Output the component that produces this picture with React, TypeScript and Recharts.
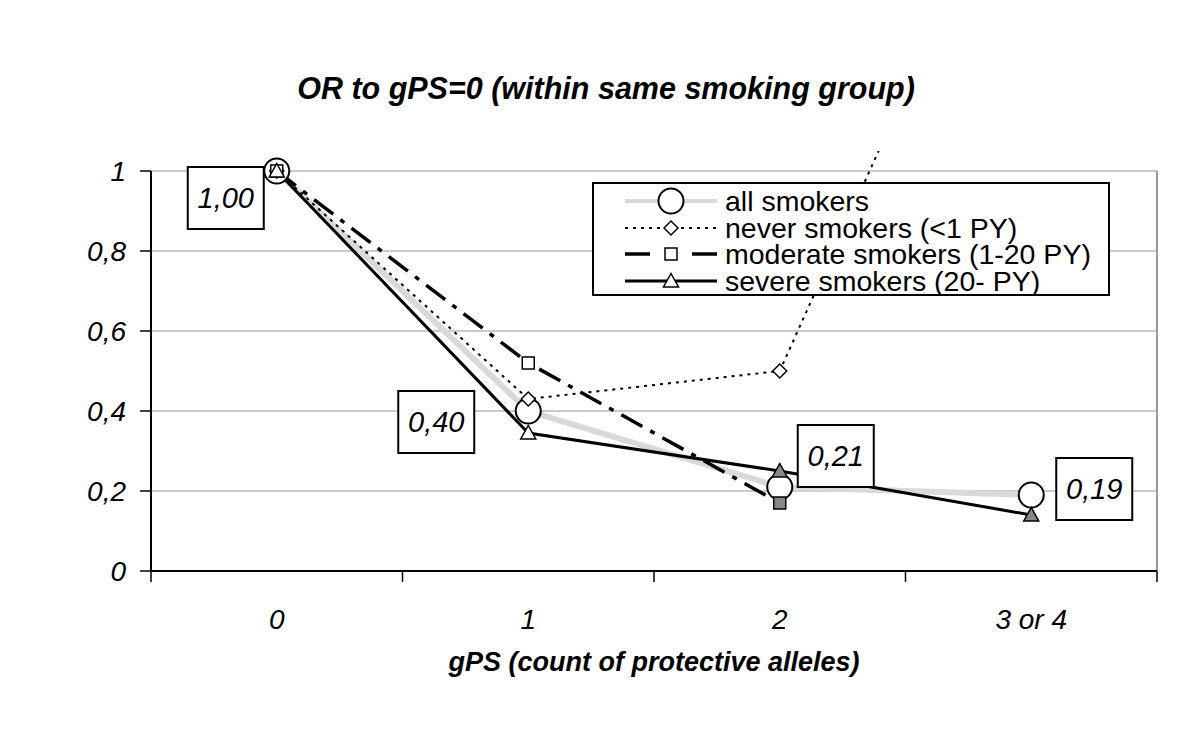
import React from 'react';
import { LineChart, Line, XAxis, YAxis, ReferenceLine, LabelList, Legend } from 'recharts';

const categories = ['0', '1', '2', '3 or 4'];
const allSmokers = [1.0, 0.4, 0.21, 0.19];
const neverSmokers = [1.0, 0.43, 0.5, 1.9];
const moderateSmokers: (number | null)[] = [1.0, 0.52, 0.17, null];
const severeSmokers = [1.0, 0.345, 0.25, 0.14];
const yTicks = [0, 0.2, 0.4, 0.6, 0.8, 1];
const seriesNames = ['all smokers', 'never smokers (<1 PY)', 'moderate smokers (1-20 PY)', 'severe smokers (20- PY)'];
const chartTitle = 'OR to gPS=0 (within same smoking group)';
const xTitle = 'gPS (count of protective alleles)';

const FONT = '"Liberation Sans", Arial, Helvetica, sans-serif';

const data = categories.map((c, i) => ({
  x: i,
  cat: c,
  all: allSmokers[i],
  never: neverSmokers[i],
  moderate: moderateSmokers[i],
  severe: severeSmokers[i],
}));

type Shape = 'circle' | 'diamond' | 'square' | 'triangle';

const styles: Record<string, { stroke: string; width: number; dash?: string; shape: Shape; fills: string[] }> = {
  all: { stroke: '#d9d9d9', width: 6, shape: 'circle', fills: ['#fff', '#fff', '#fff', '#fff'] },
  never: { stroke: '#000', width: 2, dash: '3 5', shape: 'diamond', fills: ['#fff', '#fff', '#fff', '#fff'] },
  moderate: { stroke: '#000', width: 3.5, dash: '24 9 5 9', shape: 'square', fills: ['#fff', '#fff', '#888', '#888'] },
  severe: { stroke: '#000', width: 3, shape: 'triangle', fills: ['#fff', '#fff', '#888', '#888'] },
};
const seriesKeys = ['all', 'never', 'moderate', 'severe'];

// label box centre offsets relative to the point (layout only)
const labelOffsets = [[-51, 27], [-92, 11], [56, -31], [63, -6]];

function Marker({ shape, cx, cy, fill }: { shape: Shape; cx: number; cy: number; fill: string }) {
  if (shape === 'circle') return <circle cx={cx} cy={cy} r={12.5} fill={fill} stroke="#000" strokeWidth={2} />;
  if (shape === 'diamond')
    return <path d={`M${cx},${cy - 7} L${cx + 7},${cy} L${cx},${cy + 7} L${cx - 7},${cy} Z`} fill={fill} stroke="#000" strokeWidth={1.5} />;
  if (shape === 'square') return <rect x={cx - 6} y={cy - 6} width={12} height={12} fill={fill} stroke="#000" strokeWidth={1.5} />;
  return <path d={`M${cx},${cy - 7.5} L${cx + 7.5},${cy + 6} L${cx - 7.5},${cy + 6} Z`} fill={fill} stroke="#000" strokeWidth={1.5} />;
}

const makeDot = (key: string) => (props: any) => {
  const { cx, cy, index } = props;
  const st = styles[key];
  if (cx == null || cy == null || !isFinite(cy) || props.value == null) return <g key={`${key}-d-${index}`} />;
  return (
    <g key={`${key}-d-${index}`}>
      <Marker shape={st.shape} cx={cx} cy={cy} fill={st.fills[index] || '#fff'} />
    </g>
  );
};

const fmt2 = (v: number) => v.toFixed(2).replace('.', ',');
const fmtY = (v: number) => (v === 0 ? '0' : v === 1 ? '1' : v.toFixed(1).replace('.', ','));

const renderLabel = (props: any) => {
  const px = props.x ?? props.viewBox?.x;
  const py = props.y ?? props.viewBox?.y;
  let idx = props.index;
  if (idx == null) idx = allSmokers.indexOf(props.value);
  const [dx, dy] = labelOffsets[idx] || [0, 0];
  const cx = px + dx;
  const cy = py + dy;
  return (
    <g key={`lbl-${idx}`}>
      <rect x={cx - 38} y={cy - 31} width={76} height={62} fill="#fff" stroke="#000" strokeWidth={2} />
      <text x={cx} y={cy + 10} textAnchor="middle" fontSize={29} fontStyle="italic" fontFamily={FONT} fill="#000">
        {fmt2(Number(props.value))}
      </text>
    </g>
  );
};

const renderXTick = (props: any) => {
  const { x, y, payload } = props;
  const v = payload.value;
  if (Math.abs(v - Math.round(v)) > 0.25) {
    return <line key={`xt-${v}`} x1={x} y1={y} x2={x} y2={y + 11} stroke="#000" strokeWidth={1.5} />;
  }
  return (
    <text key={`xt-${v}`} x={x} y={y + 58} textAnchor="middle" fontSize={28} fontStyle="italic" fontFamily={FONT} fill="#000">
      {categories[Math.round(v)]}
    </text>
  );
};

const renderLegend = () => {
  const rows = [19, 46, 72, 99];
  return (
    <svg width={518} height={114} style={{ display: 'block' }}>
      <rect x={1} y={1} width={516} height={112} fill="#fff" stroke="#000" strokeWidth={2} />
      {seriesKeys.map((k, i) => {
        const st = styles[k];
        const y = rows[i];
        return (
          <g key={k}>
            {k === 'moderate' ? (
              <>
                <line x1={33} y1={y} x2={58} y2={y} stroke="#000" strokeWidth={3.5} />
                <line x1={100} y1={y} x2={125} y2={y} stroke="#000" strokeWidth={3.5} />
              </>
            ) : (
              <line
                x1={33}
                y1={y}
                x2={125}
                y2={y}
                stroke={st.stroke}
                strokeWidth={k === 'all' ? 4 : st.width}
                strokeDasharray={st.dash}
              />
            )}
            <Marker shape={st.shape} cx={79} cy={y} fill="#fff" />
            <text x={133} y={y + 10} fontSize={28.5} fontFamily={FONT} fill="#000">
              {seriesNames[i]}
            </text>
          </g>
        );
      })}
    </svg>
  );
};

export default function App() {
  return (
    <div style={{ position: 'absolute', left: 0, top: 0, width: 1200, height: 737, background: '#fff' }}>
      <div
        style={{
          position: 'absolute',
          left: 0,
          top: 70,
          width: 1212,
          height: 36,
          lineHeight: '36px',
          textAlign: 'center',
          fontFamily: FONT,
          fontSize: 30.5,
          fontWeight: 'bold',
          fontStyle: 'italic',
          color: '#000',
        }}
      >
        {chartTitle}
      </div>
      <LineChart width={1200} height={737} data={data} margin={{ top: 151, right: 43, bottom: 0, left: 0 }}>
        {yTicks
          .filter((t) => t > 0)
          .map((t) => (
            <ReferenceLine key={`g-${t}`} y={t} stroke="#b8b8b8" strokeWidth={1.5} />
          ))}
        <XAxis
          type="number"
          dataKey="x"
          domain={[-0.5, 3.5]}
          ticks={[-0.5, 0, 0.5, 1, 1.5, 2, 2.5, 3, 3.5]}
          interval={0}
          tickLine={false}
          tickSize={0}
          tickMargin={0}
          axisLine={{ stroke: '#000', strokeWidth: 2 }}
          height={166}
          tick={renderXTick}
          label={{
            value: xTitle,
            position: 'insideBottom',
            offset: 66,
            style: { fontSize: 27, fontWeight: 'bold', fontStyle: 'italic', fontFamily: FONT, fill: '#000' },
          }}
        />
        <YAxis
          type="number"
          domain={[0, 1.05]}
          allowDataOverflow
          ticks={yTicks}
          interval={0}
          width={151}
          axisLine={false}
          tickLine={{ stroke: '#000', strokeWidth: 1.5 }}
          tickSize={11}
          tickMargin={14}
          tickFormatter={fmtY}
          tick={{ fill: '#000', fontSize: 28, fontStyle: 'italic', fontFamily: FONT }}
        />
        <ReferenceLine segment={[{ x: 3.5, y: 0 }, { x: 3.5, y: 1 }]} stroke="#999" strokeWidth={2} />
        <ReferenceLine segment={[{ x: -0.5, y: 0 }, { x: -0.5, y: 1 }]} stroke="#000" strokeWidth={2} />
        {seriesKeys.map((k) => (
          <Line
            key={k}
            type="linear"
            dataKey={k}
            stroke={styles[k].stroke}
            strokeWidth={styles[k].width}
            strokeDasharray={styles[k].dash}
            dot={makeDot(k)}
            activeDot={false}
            isAnimationActive={false}
            legendType="none"
          />
        ))}
        <Line
          key="labels"
          dataKey="all"
          stroke="none"
          dot={false}
          activeDot={false}
          isAnimationActive={false}
          legendType="none"
        >
          <LabelList dataKey="all" content={renderLabel} />
        </Line>
        <Legend
          layout="vertical"
          align="center"
          verticalAlign="middle"
          content={renderLegend}
          wrapperStyle={{ position: 'absolute', left: 592, top: 182, width: 518, height: 114 }}
        />
      </LineChart>
    </div>
  );
}
